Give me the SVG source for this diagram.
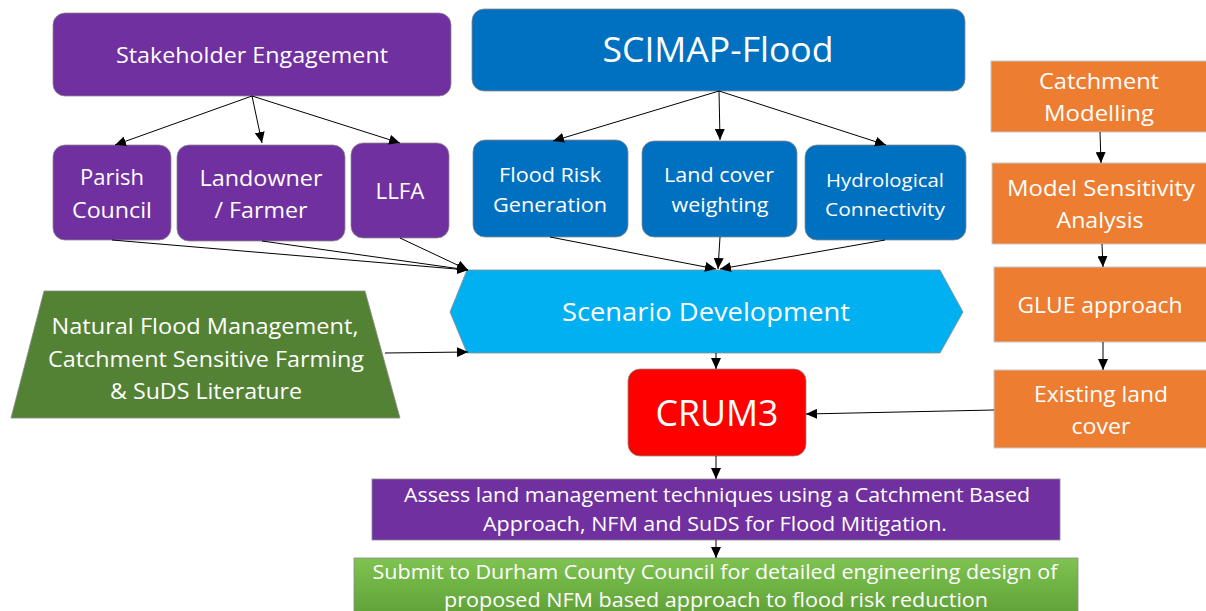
<svg xmlns="http://www.w3.org/2000/svg" width="1206" height="611" viewBox="0 0 1206 611">
<defs>
<marker id="arr" markerUnits="userSpaceOnUse" markerWidth="12" markerHeight="10" refX="11" refY="5" orient="auto">
<path d="M0,0 L11,5 L0,10 Z" fill="#000"/>
</marker>
<linearGradient id="gr" x1="0" y1="0" x2="0" y2="1">
<stop offset="0" stop-color="#7FC351"/>
<stop offset="1" stop-color="#5E9F37"/>
</linearGradient>
<style>
text{font-family:"Open Sans","Liberation Sans",sans-serif;fill:#fff;text-anchor:middle}
.p{fill:#7030A0;stroke:#8a8a8a;stroke-width:0.8}
.b{fill:#0070C0;stroke:#8a8a8a;stroke-width:0.8}
.o{fill:#ED7D31;stroke:#c8c8c8;stroke-width:1}
.c{stroke:#000;stroke-width:1;fill:none;marker-end:url(#arr)}
</style>
</defs>
<rect width="1206" height="611" fill="#fff"/>

<g id="stakeholder">
<rect class="p" x="53" y="13" width="398" height="83" rx="12"/>
<text x="252" y="63" font-size="22" textLength="272" lengthAdjust="spacingAndGlyphs">Stakeholder Engagement</text>
</g>
<g id="parish">
<rect class="p" x="53" y="145" width="118" height="95" rx="12"/>
<text x="112" y="185" font-size="22" textLength="64" lengthAdjust="spacingAndGlyphs">Parish</text>
<text x="112" y="218" font-size="22" textLength="80" lengthAdjust="spacingAndGlyphs">Council</text>
</g>
<g id="landowner">
<rect class="p" x="177" y="145" width="168" height="96" rx="12"/>
<text x="261" y="186" font-size="22" textLength="123" lengthAdjust="spacingAndGlyphs">Landowner</text>
<text x="261" y="218" font-size="22" textLength="93" lengthAdjust="spacingAndGlyphs">/ Farmer</text>
</g>
<g id="llfa">
<rect class="p" x="351" y="143" width="98" height="95" rx="12"/>
<text x="400" y="199" font-size="22" textLength="49" lengthAdjust="spacingAndGlyphs">LLFA</text>
</g>

<g id="scimap">
<rect class="b" x="472" y="9" width="493" height="82" rx="12"/>
<text x="718" y="62" font-size="34" textLength="231" lengthAdjust="spacingAndGlyphs">SCIMAP-Flood</text>
</g>
<g id="floodrisk">
<rect class="b" x="473" y="140" width="155" height="97" rx="12"/>
<text x="550" y="182" font-size="20" textLength="102" lengthAdjust="spacingAndGlyphs">Flood Risk</text>
<text x="550" y="212" font-size="20" textLength="114" lengthAdjust="spacingAndGlyphs">Generation</text>
</g>
<g id="landcover">
<rect class="b" x="642" y="141" width="155" height="96" rx="12"/>
<text x="719" y="182" font-size="20" textLength="110" lengthAdjust="spacingAndGlyphs">Land cover</text>
<text x="720" y="212" font-size="20" textLength="97" lengthAdjust="spacingAndGlyphs">weighting</text>
</g>
<g id="hydro">
<rect class="b" x="805" y="145" width="161" height="95" rx="12"/>
<text x="885" y="187" font-size="19" textLength="118" lengthAdjust="spacingAndGlyphs">Hydrological</text>
<text x="885" y="216" font-size="19" textLength="120" lengthAdjust="spacingAndGlyphs">Connectivity</text>
</g>

<g id="scenario">
<polygon points="450,312 467,270 940,270 963,312 940,353 467,353" fill="#00B0F0" stroke="#8a8a8a" stroke-width="0.8"/>
<text x="706" y="321" font-size="26" textLength="288" lengthAdjust="spacingAndGlyphs">Scenario Development</text>
</g>

<g id="literature">
<polygon points="44,291 365,291 400,418 11,418" fill="#548235" stroke="#8a8a8a" stroke-width="0.8"/>
<text x="205" y="334" font-size="22" textLength="307" lengthAdjust="spacingAndGlyphs">Natural Flood Management,</text>
<text x="206" y="367" font-size="22" textLength="316" lengthAdjust="spacingAndGlyphs">Catchment Sensitive Farming</text>
<text x="206" y="399" font-size="22" textLength="192" lengthAdjust="spacingAndGlyphs">&amp; SuDS Literature</text>
</g>

<g id="crum3">
<rect x="628" y="369" width="178" height="87" rx="12" fill="#FF0000" stroke="#8a8a8a" stroke-width="0.8"/>
<text x="717" y="426" font-size="36" textLength="123" lengthAdjust="spacingAndGlyphs">CRUM3</text>
</g>

<g id="catchment">
<rect class="o" x="991" y="61" width="216" height="71"/>
<text x="1099" y="89" font-size="22" textLength="120" lengthAdjust="spacingAndGlyphs">Catchment</text>
<text x="1099" y="121" font-size="22" textLength="110" lengthAdjust="spacingAndGlyphs">Modelling</text>
</g>
<g id="sensitivity">
<rect class="o" x="992" y="163" width="215" height="81"/>
<text x="1101" y="196" font-size="22" textLength="188" lengthAdjust="spacingAndGlyphs">Model Sensitivity</text>
<text x="1100" y="228" font-size="22" textLength="87" lengthAdjust="spacingAndGlyphs">Analysis</text>
</g>
<g id="glue">
<rect class="o" x="994" y="267" width="213" height="75"/>
<text x="1100" y="313" font-size="22" textLength="165" lengthAdjust="spacingAndGlyphs">GLUE approach</text>
</g>
<g id="existing">
<rect class="o" x="994" y="370" width="213" height="78"/>
<text x="1101" y="402" font-size="22" textLength="134" lengthAdjust="spacingAndGlyphs">Existing land</text>
<text x="1101" y="434" font-size="22" textLength="59" lengthAdjust="spacingAndGlyphs">cover</text>
</g>

<g id="assess">
<rect x="372" y="479" width="688" height="61" fill="#7030A0" stroke="#8a8a8a" stroke-width="0.8"/>
<text x="717" y="502" font-size="20" textLength="626" lengthAdjust="spacingAndGlyphs">Assess land management techniques using a  Catchment Based</text>
<text x="715" y="531" font-size="20" textLength="464" lengthAdjust="spacingAndGlyphs">Approach, NFM and SuDS for Flood Mitigation.</text>
</g>
<g id="submit">
<rect x="354" y="558" width="724" height="60" fill="url(#gr)" stroke="#8a8a8a" stroke-width="0.8"/>
<text x="715" y="579" font-size="20" textLength="685" lengthAdjust="spacingAndGlyphs">Submit to Durham County Council for detailed engineering design of</text>
<text x="716" y="607" font-size="20" textLength="544" lengthAdjust="spacingAndGlyphs">proposed NFM based approach to flood risk reduction</text>
</g>

<g id="connectors">
<line class="c" x1="252" y1="96" x2="115" y2="145"/>
<line class="c" x1="252" y1="96" x2="262" y2="143"/>
<line class="c" x1="252" y1="96" x2="400" y2="143"/>
<line class="c" x1="719" y1="91" x2="553" y2="141"/>
<line class="c" x1="719" y1="91" x2="720" y2="140"/>
<line class="c" x1="719" y1="91" x2="886" y2="145"/>
<line class="c" x1="112" y1="240" x2="468" y2="270"/>
<line class="c" x1="262" y1="241" x2="468" y2="270"/>
<line class="c" x1="400" y1="238" x2="468" y2="270"/>
<line class="c" x1="550" y1="237" x2="716" y2="269"/>
<line class="c" x1="720" y1="237" x2="718" y2="269"/>
<line class="c" x1="885" y1="240" x2="720" y2="269"/>
<line class="c" x1="385" y1="353" x2="468" y2="352"/>
<line class="c" x1="716" y1="353" x2="716" y2="369"/>
<line class="c" x1="994" y1="410" x2="806" y2="414"/>
<line class="c" x1="1100" y1="132" x2="1101" y2="163"/>
<line class="c" x1="1102" y1="244" x2="1103" y2="267"/>
<line class="c" x1="1103" y1="342" x2="1103" y2="370"/>
<line class="c" x1="716" y1="456" x2="716" y2="479"/>
<line class="c" x1="716" y1="540" x2="716" y2="558"/>
</g>
</svg>
